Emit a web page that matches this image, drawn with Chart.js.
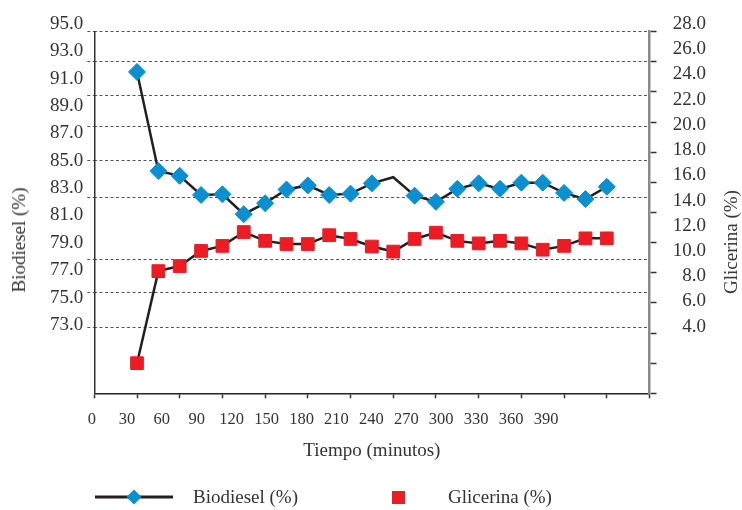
<!DOCTYPE html>
<html>
<head>
<meta charset="utf-8">
<script src="https://cdn.jsdelivr.net/npm/chart.js@4"></script>
<style>
  body { margin: 0; background: #fff; }
  #wrap { position: relative; width: 742px; height: 510px; font-family: "Liberation Serif", serif; color: #333; }
  #chart { position: absolute; left: 0; top: 0; }
  .vtitle { position: absolute; font-size: 19px; white-space: nowrap;
            transform: translate(-50%, -50%) rotate(-90deg); }
  .leg { position: absolute; font-size: 19px; line-height: 20px; white-space: nowrap; }
  .leg svg { display: block; }
</style>
</head>
<body>
<div id="wrap">
  <canvas id="chart" width="742" height="510"></canvas>
  <div class="vtitle" id="ltitle" style="left:19px;top:240px"></div>
  <div class="vtitle" id="rtitle" style="left:731px;top:242px"></div>
  <div id="legend"></div>
</div>
<script>
// Tiempo de reaccion (min) y composicion medida
const times = [30, 45, 60, 75, 90, 105, 120, 135, 150, 165, 180, 195, 210, 225, 240, 255, 270, 285, 300, 315, 330, 345, 360];
const biodiesel = [91.5, 84.25, 83.9, 82.5, 82.55, 81.1, 81.9, 82.9, 83.2, 82.5, 82.6, 83.35, 83.8, 82.45, 82.0, 82.95, 83.35, 82.95, 83.4, 83.4, 82.65, 82.2, 83.1];
const glicerina = [1.1, 8.4, 8.8, 10.0, 10.4, 11.5, 10.8, 10.55, 10.55, 11.25, 10.95, 10.35, 9.95, 10.95, 11.45, 10.8, 10.6, 10.8, 10.6, 10.1, 10.4, 11.0, 11.0];
// punto de biodiesel sin marcador en la figura
const bioUnmarked = [210];

// etiquetas de ejes
const timeLabels = [0, 30, 60, 90, 120, 150, 180, 210, 240, 270, 300, 330, 360, 390];
const bioTicks = [95, 93, 91, 89, 87, 85, 83, 81, 79, 77, 75, 73];
const gliTicks = [28, 26, 24, 22, 20, 18, 16, 14, 12, 10, 8, 6, 4];
// lineas de division (en % biodiesel)
const gridLevels = [94.44, 92.24, 89.76, 87.49, 85.0, 82.33, 77.75, 75.39, 72.83];

const seriesNames = ["Biodiesel (%)", "Glicerina (%)"];
const axisTitles = { x: "Tiempo (minutos)", left: "Biodiesel (%)", right: "Glicerina (%)" };

(function () {
  "use strict";

  const INK = "#333";
  const BLUE = "#0a90d0";
  const RED = "#ed1c24";
  const LINE = "#231f20";

  Chart.defaults.font.family = "'Liberation Serif', serif";
  Chart.defaults.color = INK;

  const fixTicks = (vals) => (s) => { s.ticks = vals.map((v) => ({ value: v })); };

  const chart = new Chart(document.getElementById("chart"), {
    type: "line",
    data: {
      datasets: [
        {
          label: seriesNames[0],
          data: times.map((t, i) => ({ x: t, y: biodiesel[i] })),
          xAxisID: "x",
          yAxisID: "y",
          borderColor: LINE,
          borderWidth: 2.5,
          pointStyle: "rectRot",
          pointRadius: (ctx) => (bioUnmarked.includes(times[ctx.dataIndex]) ? 0 : 8.5),
          pointBackgroundColor: BLUE,
          pointBorderColor: BLUE,
          pointBorderWidth: 1,
          tension: 0,
        },
        {
          label: seriesNames[1],
          data: times.map((t, i) => ({ x: t, y: glicerina[i] })),
          xAxisID: "x",
          yAxisID: "y1",
          borderColor: LINE,
          borderWidth: 2.5,
          pointStyle: "rect",
          pointRadius: 9,
          pointBackgroundColor: RED,
          pointBorderColor: RED,
          pointBorderWidth: 1,
          tension: 0,
        },
      ],
    },
    options: {
      responsive: false,
      animation: false,
      devicePixelRatio: 1,
      layout: { padding: { left: 0, right: 36, top: 31.7, bottom: 43.6 } },
      plugins: { legend: { display: false }, tooltip: { enabled: false } },
      scales: {
        // eje de datos: solo marcas
        x: {
          type: "linear", position: "bottom", weight: 0, min: 0, max: 390,
          ticks: { stepSize: 30, display: false },
          grid: { drawOnChartArea: false, drawTicks: true, tickLength: 5, tickColor: INK, tickWidth: 1.5 },
          border: { color: "#222", width: 1.5 },
          afterFit: (s) => { s.height = 0; },
        },
        // etiquetas de tiempo tal como aparecen en la figura
        xText: {
          type: "linear", position: "bottom", weight: 1, min: 1.98, max: 478.9,
          afterBuildTicks: fixTicks(timeLabels),
          ticks: { autoSkip: false, maxRotation: 0, padding: 16.4, font: { size: 16.5 }, color: INK },
          grid: { drawOnChartArea: false, drawTicks: false },
          border: { display: false },
          title: { display: true, text: axisTitles.x, font: { size: 19 }, color: INK, padding: { top: 0, bottom: 4 } },
          afterFit: (s) => { s.height = 73.1; },
        },
        // lineas punteadas
        yGrid: {
          type: "linear", position: "left", weight: 0, min: 68, max: 94.44,
          afterBuildTicks: fixTicks(gridLevels),
          ticks: { display: false },
          grid: { color: "#555", lineWidth: 1, drawTicks: true, tickLength: 7, tickColor: "#555", tickBorderDash: [3, 2.5] },
          border: { display: false, dash: [3, 2.5] },
          afterFit: (s) => { s.width = 0; },
        },
        y: {
          type: "linear", position: "left", weight: 1, min: 68, max: 94.44,
          afterBuildTicks: fixTicks(bioTicks),
          ticks: { autoSkip: false, padding: 11, font: { size: 19 }, color: INK, callback: (v) => v.toFixed(1) },
          grid: { drawOnChartArea: false, drawTicks: false },
          border: { color: INK, width: 1.5 },
          afterFit: (s) => { s.width = 94.3; },
        },
        // marcas del eje secundario
        yMarks: {
          type: "linear", position: "right", weight: 0, min: 4, max: 28,
          ticks: { stepSize: 2, display: false },
          grid: { drawOnChartArea: false, drawTicks: true, tickLength: 7, tickColor: INK, tickWidth: 1.5 },
          border: { color: "#8a8a8a", width: 2.5 },
          afterFit: (s) => { s.width = 0; },
        },
        y1: {
          type: "linear", position: "right", weight: 1, min: -1.29, max: 27.39,
          afterBuildTicks: fixTicks(gliTicks),
          ticks: { autoSkip: false, crossAlign: "far", padding: 12, font: { size: 19 }, color: INK, callback: (v) => v.toFixed(1) },
          grid: { drawOnChartArea: false, drawTicks: false },
          border: { display: false },
          afterFit: (s) => { s.width = 56.5; },
        },
      },
    },
  });

  // titulos verticales (se leen de abajo hacia arriba)
  document.getElementById("ltitle").textContent = axisTitles.left;
  document.getElementById("rtitle").textContent = axisTitles.right;

  // leyenda
  const legend = document.getElementById("legend");
  const ds = chart.data.datasets;
  const sym0 =
    '<svg width="78" height="18"><line x1="0" y1="9" x2="78" y2="9" stroke="' + LINE + '" stroke-width="3"/>' +
    '<polygon points="31.5,9 39,1.5 46.5,9 39,16.5" fill="' + BLUE + '"/></svg>';
  const sym1 = '<svg width="13" height="13"><rect x="0" y="0" width="13" height="13" fill="' + RED + '"/></svg>';
  legend.innerHTML =
    '<div class="leg" style="left:95px;top:488px">' + sym0 + "</div>" +
    '<div class="leg" style="left:193px;top:487px">' + ds[0].label + "</div>" +
    '<div class="leg" style="left:391.5px;top:490.5px">' + sym1 + "</div>" +
    '<div class="leg" style="left:448px;top:487px">' + ds[1].label + "</div>";
})();
</script>
</body>
</html>
